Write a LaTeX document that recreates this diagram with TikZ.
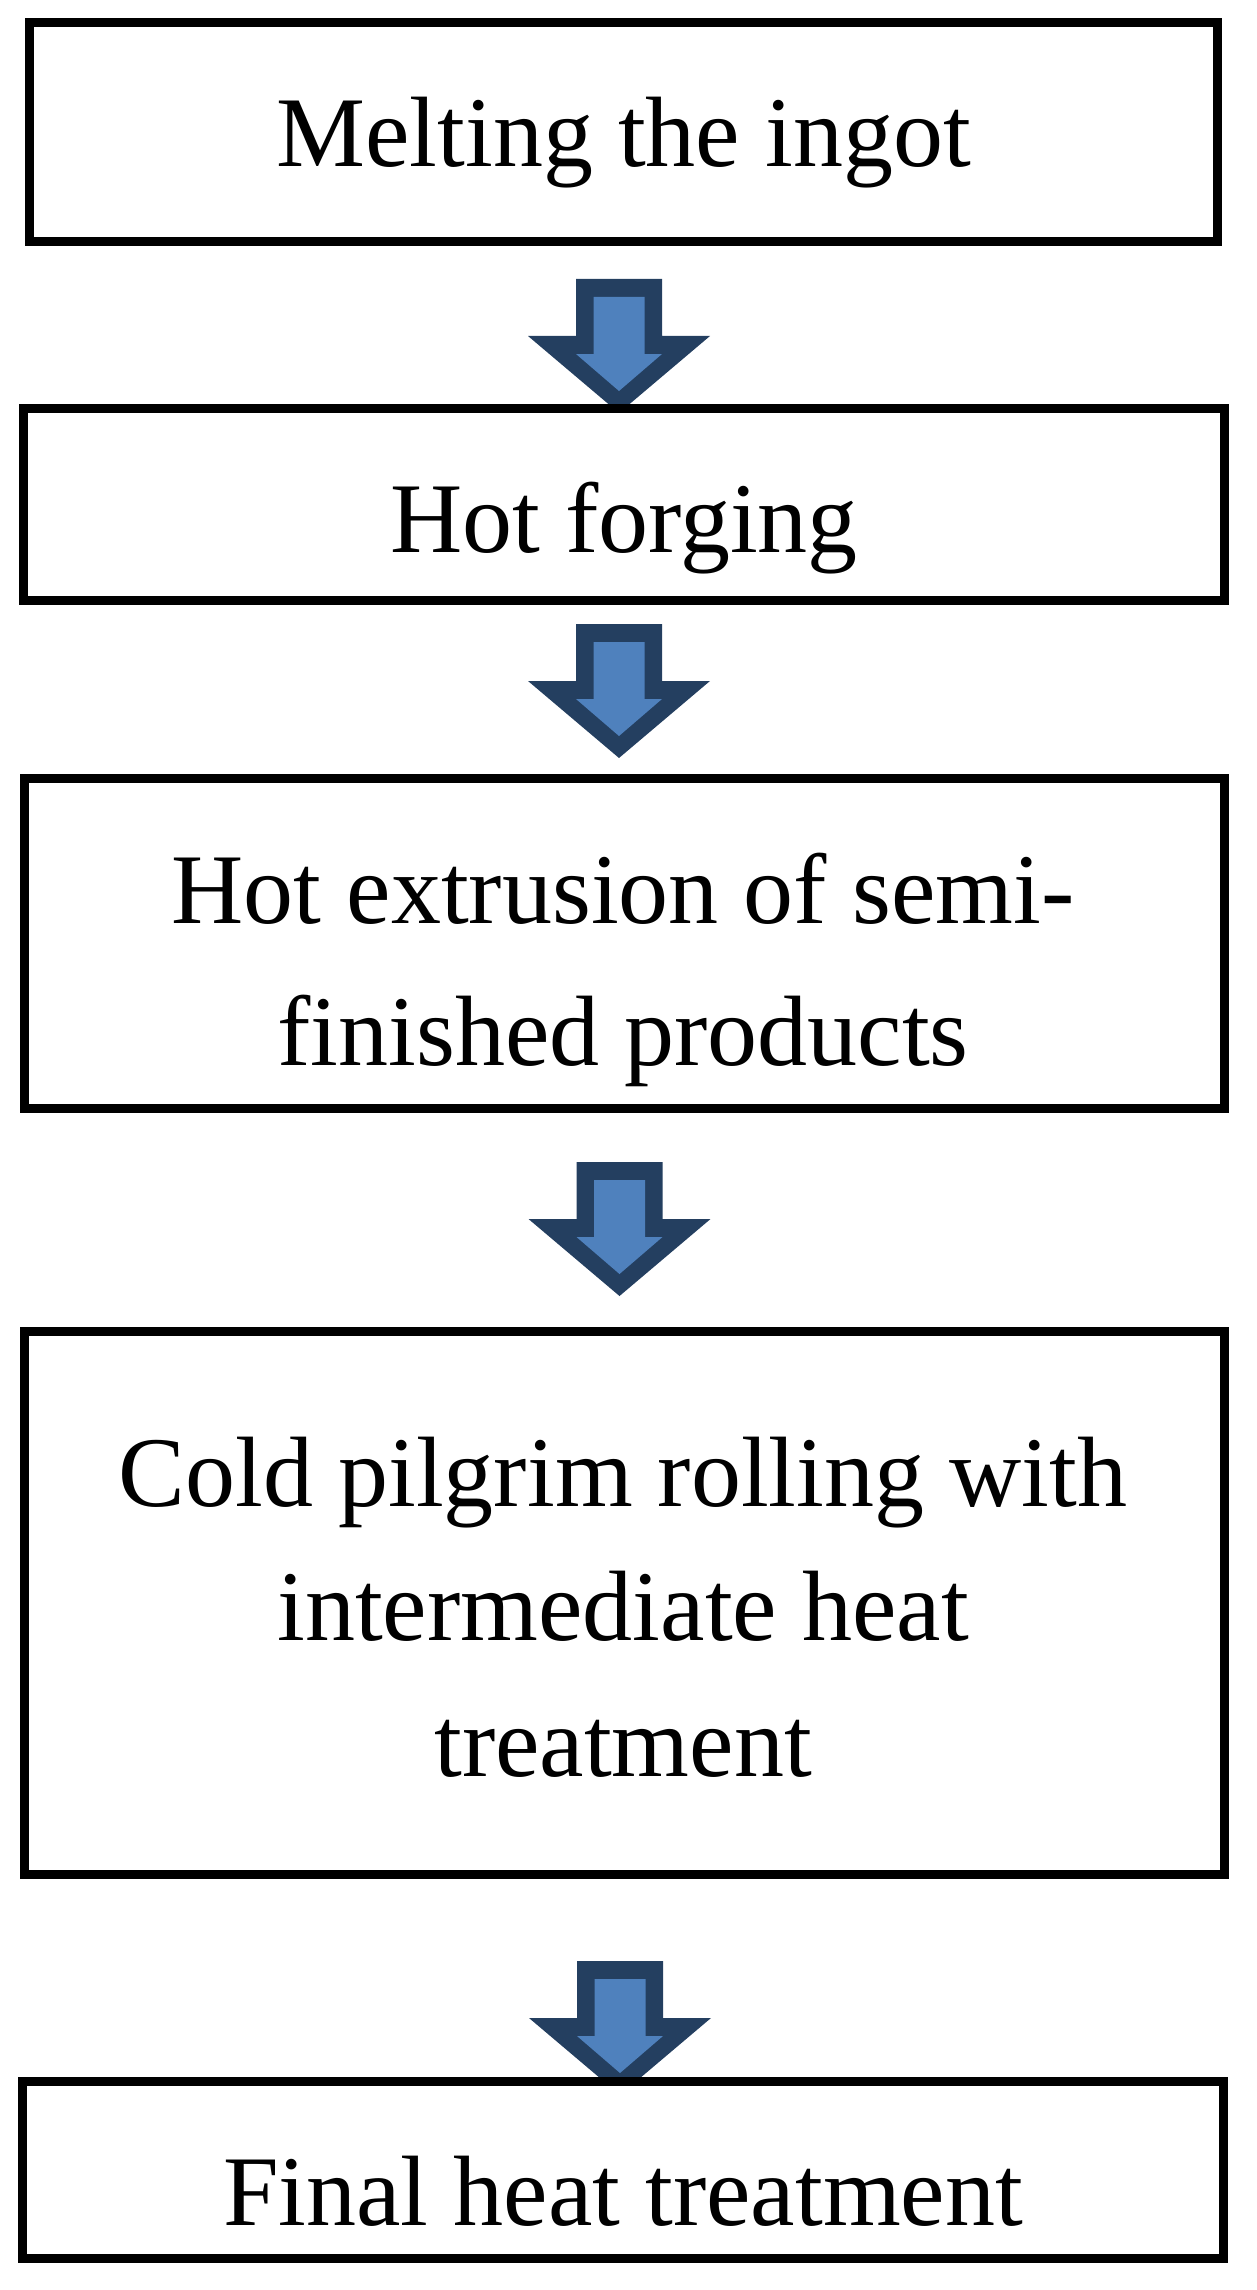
\documentclass[tikz,border=0pt]{standalone}
\usepackage{fontspec}
\setmainfont{Liberation Serif}
\definecolor{arrowdark}{HTML}{243F60}
\definecolor{arrowlight}{HTML}{4F81BD}
\tikzset{
  procbox/.style={draw=black, fill=white, line width=9pt, inner sep=0pt, outer sep=0pt},
  steptext/.style={anchor=base, inner sep=0pt, outer sep=0pt, font=\fontsize{100}{120}\selectfont},
  blockarrow/.pic={
    \fill[arrowdark] (-43,0) -- (43,0) -- (43,57) -- (91,57) -- (0,134) -- (-91,57) -- (-43,57) -- cycle;
    \fill[arrowlight] (-25.5,18) -- (25.5,18) -- (25.5,75) -- (43,75) -- (0,112) -- (-43,75) -- (-25.5,75) -- cycle;
  }
}
\begin{document}
\begin{tikzpicture}[x=1pt,y=-1pt]
\useasboundingbox (0,0) rectangle (1256,2290);
% block arrows (drawn first, boxes cover their tips)
\pic (a1) at (619,279) {blockarrow};
\pic (a2) at (619,624) {blockarrow};
\pic (a3) at (619.5,1162) {blockarrow};
\pic (a4) at (620,1961) {blockarrow};
% boxes
\node[procbox, minimum width=1188pt, minimum height=219pt] (b1) at (623.5,132) {};
\node[procbox, minimum width=1201pt, minimum height=192.5pt] (b2) at (624,504.25) {};
\node[procbox, minimum width=1200pt, minimum height=330pt] (b3) at (624,943) {};
\node[procbox, minimum width=1200pt, minimum height=542.5pt] (b4) at (624,1602.75) {};
\node[procbox, minimum width=1200.5pt, minimum height=177pt] (b5) at (622.75,2170) {};
% texts
\node[steptext] (t1) at (623.5,167) {Melting the ingot};
\node[steptext] (t2) at (624,552) {Hot forging};
\node[steptext] (t3a) at (623,923) {Hot extrusion of semi-};
\node[steptext] (t3b) at (623,1065) {finished products};
\node[steptext] (t4a) at (623,1506) {Cold pilgrim rolling with};
\node[steptext] (t4b) at (623,1640) {intermediate heat};
\node[steptext] (t4c) at (623,1776) {treatment};
\node[steptext] (t5) at (623,2225) {Final heat treatment};
\end{tikzpicture}
\end{document}
